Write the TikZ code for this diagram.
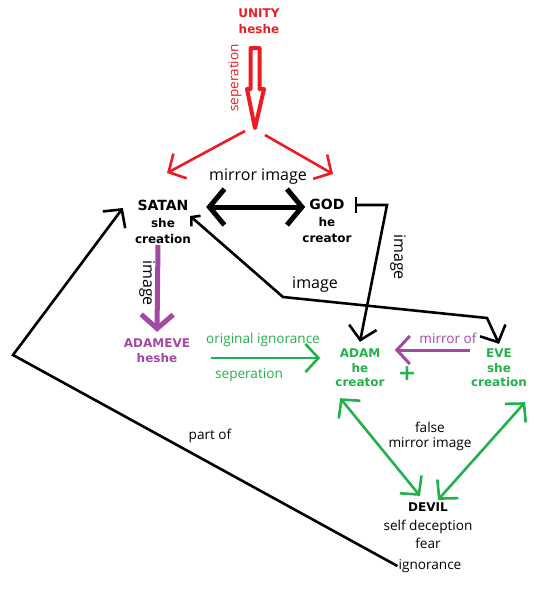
\documentclass[tikz,border=0pt]{standalone}
\usepackage{fontspec}
\setmainfont{Open Sans}
\newfontfamily\namefont{DejaVu Sans}
\usetikzlibrary{positioning,arrows.meta}
\definecolor{pred}{RGB}{237,28,36}
\definecolor{ppurple}{RGB}{163,73,164}
\definecolor{pgreen}{RGB}{34,177,76}
\newcommand{\headline}[1]{{\fontsize{14}{16.5}\selectfont #1}}

\begin{document}
\begin{tikzpicture}[x=1pt, y=-1pt,
  who/.style={font=\namefont\bfseries\fontsize{12}{16.5}\selectfont, align=center, inner sep=1pt},
  txt/.style={font=\fontsize{13.6}{15}\selectfont, align=center, inner sep=1pt},
  big/.style={font=\fontsize{16}{18}\selectfont, inner sep=1pt},
  barb/.style={-{Straight Barb[length=13pt,width=28pt]}},
  dbarb/.style={{Straight Barb[length=13pt,width=28pt]}-{Straight Barb[length=13pt,width=28pt]}},
  blkln/.style={draw=black, line width=2.6pt},
  redln/.style={draw=pred, line width=2.6pt},
  grnln/.style={draw=pgreen, line width=2.6pt},
  prpln/.style={draw=ppurple, line width=3pt}]
\useasboundingbox (0,0) rectangle (552,598);
\fill[white] (0,0) rectangle (552,598);
% nodes
\node[who, text=pred] (unity) at (259,21) {UNITY\\heshe};
\node[who] (satan) at (163,222) {\headline{SATAN}\\she\\creation};
\node[who] (god) at (327,221) {\headline{GOD}\\he\\creator};
\node[who, text=ppurple, font=\namefont\bfseries\fontsize{12}{15}\selectfont] (adameve) at (157,351) {ADAMEVE\\heshe};
\node[who, text=pgreen, font=\namefont\bfseries\fontsize{12}{14.5}\selectfont] (adam) at (360,368) {ADAM\\he\\creator};
\node[who, text=pgreen, font=\namefont\bfseries\fontsize{12}{14.5}\selectfont] (eve) at (499,368) {EVE\\she\\creation};
\node[txt, font=\fontsize{13.6}{18.5}\selectfont] (devil) at (428,526) {\namefont\bfseries\fontsize{12}{14}\selectfont DEVIL\\self deception\\fear};
\node[txt] (ign) at (430,566) {ignorance};
\node[who, text=pgreen, font=\namefont\bfseries\fontsize{22}{22}\selectfont] (plus) at (407,374) {+};
% bends
\coordinate (split) at (255,131);
\coordinate (bend) at (13,355);
\coordinate (k1) at (283,297);
\coordinate (k2) at (487,318);
\coordinate (k3) at (387,205);
% red split
\draw[pred, line width=4pt, fill=white, line join=round]
  (250.5,48) -- (259.5,48) -- (259.5,89) -- (264,89) -- (255,128) -- (247,89) -- (250.5,89) -- cycle;
\draw[redln, barb] ([xshift=-10pt]split) -- ([shift={(4pt,26pt)}]satan.north);
\draw[redln, barb] ([shift={(10pt,-4pt)}]split) -- ([shift={(6pt,24pt)}]god.north);
% black connectors
\draw[line width=5pt, {Straight Barb[length=15pt,width=36pt]}-{Straight Barb[length=15pt,width=36pt]}]
  ([shift={(14pt,15pt)}]satan.east) -- ([shift={(4pt,14pt)}]god.west);
\draw[blkln, barb] (ign.west) -- (bend) -- ([shift={(-11pt,14pt)}]satan.west);
\draw[blkln, {Straight Barb[length=6pt,width=14pt]}-{Straight Barb[length=13pt,width=28pt]}]
  ([shift={(-2pt,6pt)}]satan.east) -- (k1) -- (k2) -- ([yshift=4pt]eve.north);
\draw[blkln, {Bar[width=16pt]}-{Straight Barb[length=13pt,width=28pt]}]
  ([shift={(2pt,16pt)}]god.east) -- (k3) -- ([yshift=6pt]adam.north);
% coloured connectors
\draw[draw=ppurple, line width=5pt, -{Straight Barb[length=14pt,width=32pt]}]
  ([xshift=-5pt]satan.south) -- ([yshift=6pt]adameve.north);
\draw[prpln, barb] ([yshift=18pt]eve.west) -- ([shift={(9pt,18pt)}]adam.east);
\draw[grnln, barb] ([shift={(20pt,-7pt)}]adameve.east) -- ([shift={(-14pt,10pt)}]adam.west);
\draw[grnln, dbarb] ([shift={(6pt,-10pt)}]adam.south west) -- ([shift={(-8pt,6pt)}]devil.north);
\draw[grnln, dbarb] ([shift={(10pt,2pt)}]devil.north) -- ([shift={(-3pt,-14pt)}]eve.south east);
% labels
\node[txt, text=pred, rotate=90] (sep1) at (235,78) {seperation};
\node[big] (mirror) at (258,177) {mirror image};
\node[big, rotate=-90] (img1) at (147,283) {image};
\node[big] (img2) at (315,285) {image};
\node[big, rotate=-90] (img3) at (398,257) {image};
\node[txt, text=pgreen] (orig) at (263,340) {original ignorance};
\node[txt, text=pgreen] (sep2) at (249,375) {seperation};
\node[txt, text=ppurple] (mof) at (448,338) {mirror of};
\node[txt] (false) at (430,436) {false\\mirror image};
\node[txt] (part) at (210,436) {part of};
\end{tikzpicture}
\end{document}
